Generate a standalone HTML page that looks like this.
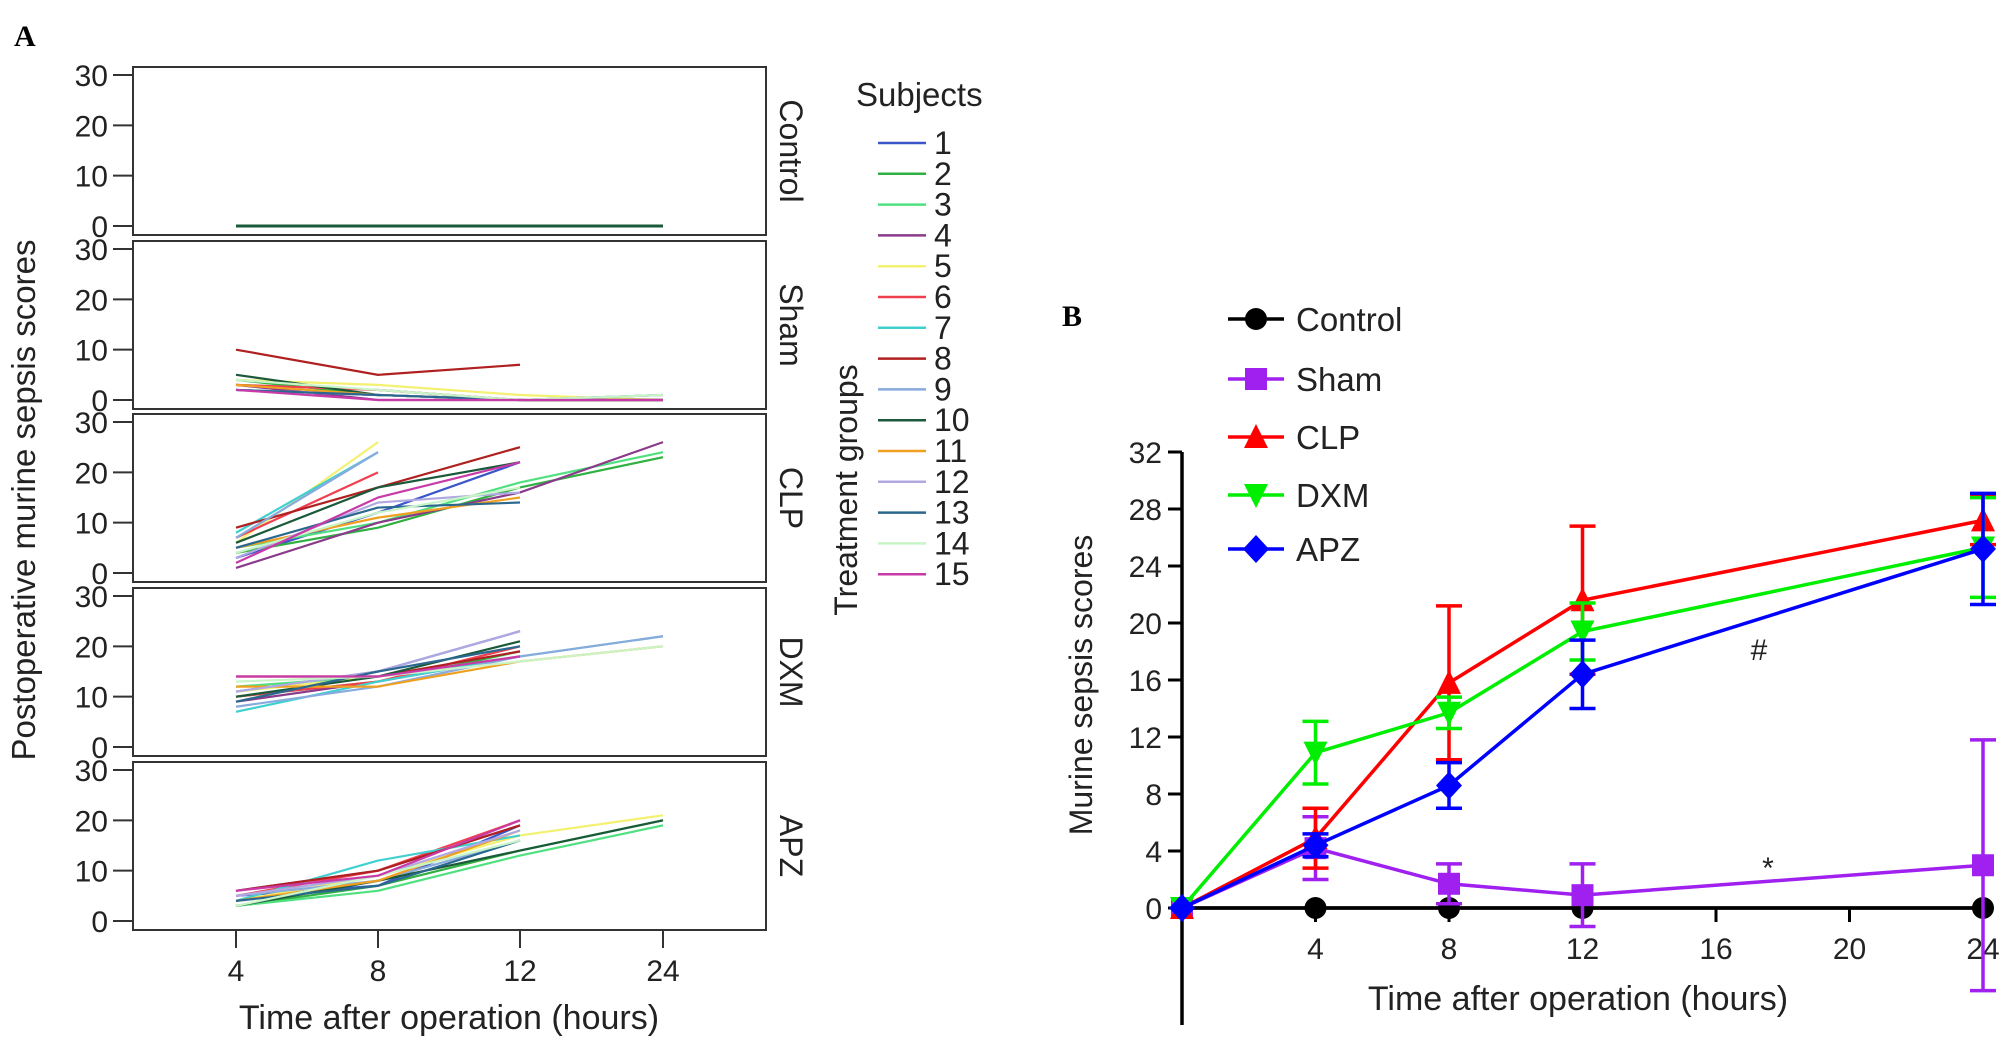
<!DOCTYPE html>
<html><head><meta charset="utf-8"><style>
html,body{margin:0;padding:0;background:#fff;}
svg{display:block;font-family:"Liberation Sans",Arial,sans-serif;}
</style></head><body>
<svg id="fig" width="2008" height="1047" viewBox="0 0 2008 1047" xmlns="http://www.w3.org/2000/svg">
<text x="14" y="46" font-family="Liberation Serif" font-weight="bold" font-size="30">A</text>
<text x="1062" y="326" font-family="Liberation Serif" font-weight="bold" font-size="30">B</text>
<g id="pa"></g>
<g id="pb"></g>
</svg>
<script>
// ---------- Panel A data ----------
const hoursA = ["4","8","12","24"];
const groupsA = ["Control","Sham","CLP","DXM","APZ"];
const subjectColors = ["#3a56c8","#30b040","#50e080","#8a3a8a","#f4f070","#f04050","#40d0d0","#b02020","#88aadd","#1a5a3a","#f0a020","#b0a8e0","#2a6890","#c8f4c8","#c83aa8"];
const ctrlData = Array.from({length:15},()=>[0,0,0,0]);
const shamData = [[2,1,0,0],[4,1,0,0],[3,2,0,1],[3,0,0,0],[4,3,1,0],[3,2,0,0],[2,1,0,1],[10,5,7,null],[2,1,0,1],[5,1,0,0],[3,1,0,0],[2,1,0,1],[2,1,0,0],[4,2,0,1],[2,0,0,0]];
const clpData = [[3,12,22,null],[4,9,17,23],[5,10,18,24],[1,10,16,26],[6,26,null,null],[7,20,null,null],[8,24,null,null],[9,17,25,null],[7,24,null,null],[6,17,22,null],[5,11,15,null],[3,14,16,null],[5,13,14,null],[4,12,17,null],[2,15,22,null]];
const dxmData = [[11,15,23,null],[10,13,19,null],[12,14,18,null],[9,13,18,null],[11,14,17,20],[10,13,20,null],[7,13,18,22],[14,14,19,null],[8,12,18,22],[10,14,21,null],[12,12,17,20],[11,15,23,null],[9,15,20,null],[13,14,17,20],[14,14,18,null]];
const apzData = [[5,7,19,null],[3,7,14,20],[3,6,13,19],[6,10,19,null],[4,9,17,21],[5,10,20,null],[4,12,17,null],[6,10,19,null],[5,8,16,null],[3,8,14,20],[4,8,18,null],[5,9,18,null],[4,7,16,null],[3,9,16,null],[6,9,20,null]];
const yTicksA = [0,10,20,30];

// ---------- Panel B data ----------
const seriesB = ["Control","Sham","CLP","DXM","APZ"];
const colorsB = ["#000000","#a020f0","#ff0000","#00ee00","#0000ff"];
const hoursB = [0,4,8,12,24];
const controlMean = [0,0,0,0,0];
const shamMean = [0,4.2,1.7,0.9,3.0];
const shamErr = [0,2.2,1.4,2.2,8.8];
const clpMean = [0,4.9,15.8,21.6,27.2];
const clpErr = [0,2.1,5.4,5.2,1.7];
const dxmMean = [0,10.9,13.7,19.4,25.3];
const dxmErr = [0,2.2,1.1,2.0,3.5];
const apzMean = [0,4.4,8.6,16.4,25.2];
const apzErr = [0,0.8,1.6,2.4,3.9];
const xTicksB = [4,8,12,16,20,24];
const yTicksB = [0,4,8,12,16,20,24,28,32];

const NS="http://www.w3.org/2000/svg";
function mk(parent,tag,attrs,text){const e=document.createElementNS(NS,tag);for(const k in attrs)e.setAttribute(k,attrs[k]);if(text!==undefined)e.textContent=text;parent.appendChild(e);return e;}

// ---------- Panel A ----------
const pa=document.getElementById('pa');
const panelTops=[67,241,414,588,762], panelH=168, pL=133, pR=766;
const xA = i => [236,378,520,663][i];
const allA=[ctrlData,shamData,clpData,dxmData,apzData];
groupsA.forEach((g,gi)=>{
  const top=panelTops[gi];
  const yA = v => top+159 - v*(151/30);
  const box=mk(pa,'rect',{x:pL,y:top,width:pR-pL,height:panelH,fill:'none',stroke:'#333','stroke-width':2});
  
  
  yTicksA.forEach(t=>{
    const tk=mk(pa,'line',{x1:pL-20,x2:pL,y1:yA(t),y2:yA(t),stroke:'#333','stroke-width':2});
    
    
    const tl=mk(pa,'text',{x:pL-25,y:yA(t)+11,'text-anchor':'end','font-size':30,fill:'#222'},String(t));
    
    
  });
  const st=mk(pa,'text',{x:0,y:0,transform:`translate(${pR+14},${top+panelH/2}) rotate(90)`,'text-anchor':'middle','font-size':32,fill:'#222'},g);
  
  
  allA[gi].forEach((row,si)=>{
    const pts=[];
    row.forEach((v,i)=>{if(v!==null)pts.push(xA(i)+','+yA(v));});
    const pl=mk(pa,'polyline',{points:pts.join(' '),fill:'none',stroke:gi===0?'#1a5a3a':subjectColors[si],'stroke-width':2.2});
    
    
  });
});
hoursA.forEach((h,i)=>{
  const tk=mk(pa,'line',{x1:xA(i),x2:xA(i),y1:930,y2:948,stroke:'#333','stroke-width':2});
  
  
  const tl=mk(pa,'text',{x:xA(i),y:981,'text-anchor':'middle','font-size':30,fill:'#222'},h);
  
  
});
let t=mk(pa,'text',{x:449,y:1029,'text-anchor':'middle','font-size':34,fill:'#222'},'Time after operation (hours)');

t=mk(pa,'text',{x:0,y:0,transform:'translate(35,500) rotate(-90)','text-anchor':'middle','font-size':33,fill:'#222'},'Postoperative murine sepsis scores');

t=mk(pa,'text',{x:0,y:0,transform:'translate(857,490) rotate(-90)','text-anchor':'middle','font-size':32,fill:'#222'},'Treatment groups');

t=mk(pa,'text',{x:856,y:106,'font-size':33,fill:'#222'},'Subjects');

subjectColors.forEach((c,i)=>{
  const y=143+i*30.8;
  const l=mk(pa,'line',{x1:878,x2:926,y1:y,y2:y,stroke:c,'stroke-width':2.5});
  
  const lt=mk(pa,'text',{x:934,y:y+11,'font-size':32,fill:'#222'},String(i+1));
  
});

// ---------- Panel B ----------
const pb=document.getElementById('pb');
const X0=1182, Y0=908;
const xB = h => X0 + h*(133.5/4);
const yB = v => Y0 - v*(57/4);
let ax=mk(pb,'line',{x1:X0,x2:X0,y1:yB(32),y2:1025,stroke:'#000','stroke-width':3.5});

ax=mk(pb,'line',{x1:X0,x2:xB(24)+10,y1:Y0,y2:Y0,stroke:'#000','stroke-width':3.5});

yTicksB.forEach(v=>{
  const tk=mk(pb,'line',{x1:X0-14,x2:X0,y1:yB(v),y2:yB(v),stroke:'#000','stroke-width':3});
  
  const tl=mk(pb,'text',{x:X0-20,y:yB(v)+11,'text-anchor':'end','font-size':30,fill:'#222'},String(v));
  
});
xTicksB.forEach(h=>{
  const tk=mk(pb,'line',{x1:xB(h),x2:xB(h),y1:Y0,y2:Y0+14,stroke:'#000','stroke-width':3});
  
  const tl=mk(pb,'text',{x:xB(h),y:Y0+51,'text-anchor':'middle','font-size':30,fill:'#222'},String(h));
  
});
t=mk(pb,'text',{x:1578,y:1010,'text-anchor':'middle','font-size':34,fill:'#222'},'Time after operation (hours)');

t=mk(pb,'text',{x:0,y:0,transform:'translate(1092,685) rotate(-90)','text-anchor':'middle','font-size':32,fill:'#222'},'Murine sepsis scores');

t=mk(pb,'text',{x:1759,y:660,'text-anchor':'middle','font-size':30,fill:'#222'},'#');

t=mk(pb,'text',{x:1768,y:878,'text-anchor':'middle','font-size':30,fill:'#222'},'*');


function marker(parent,kind,cx,cy,c){
  const s=11;
  if(kind===0) return mk(parent,'circle',{cx:cx,cy:cy,r:s,fill:c});
  if(kind===1) return mk(parent,'rect',{x:cx-s,y:cy-s,width:2*s,height:2*s,fill:c});
  if(kind===2) return mk(parent,'polygon',{points:`${cx},${cy-s-2} ${cx+s+1},${cy+s} ${cx-s-1},${cy+s}`,fill:c});
  if(kind===3) return mk(parent,'polygon',{points:`${cx},${cy+s+2} ${cx+s+1},${cy-s} ${cx-s-1},${cy-s}`,fill:c});
  return mk(parent,'polygon',{points:`${cx},${cy-s-3} ${cx+s+2},${cy} ${cx},${cy+s+3} ${cx-s-2},${cy}`,fill:c});
}
const meansB=[controlMean,shamMean,clpMean,dxmMean,apzMean];
const errsB=[null,shamErr,clpErr,dxmErr,apzErr];
[0,1,2,3,4].forEach(si=>{
  const c=colorsB[si], m=meansB[si], e=errsB[si];
  const g=mk(pb,'g',{});
  
  
  if(e){hoursB.forEach((h,i)=>{ if(e[i]>0){
    const x=xB(h);
    const eb=mk(g,'path',{d:`M${x},${yB(m[i]-e[i])}V${yB(m[i]+e[i])}M${x-13},${yB(m[i]+e[i])}h26M${x-13},${yB(m[i]-e[i])}h26`,stroke:c,'stroke-width':3.5,fill:'none'});
    
  }});}
  const ln=mk(g,'polyline',{points:hoursB.map((h,i)=>xB(h)+','+yB(m[i])).join(' '),fill:'none',stroke:c,'stroke-width':3.5});
  
  hoursB.forEach((h,i)=>{
    const mm=marker(g,si,xB(h),yB(m[i]),c);
    
  });
  const ly=[319,379,437,495,549][si];
  const ll=mk(pb,'line',{x1:1228,x2:1284,y1:ly,y2:ly,stroke:c,'stroke-width':3.5});
  
  const lm=marker(pb,si,1256,ly,c);
  
  const lt=mk(pb,'text',{x:1296,y:ly+12,'font-size':33,fill:'#222'},seriesB[si]);
  
});
</script>
</body></html>
